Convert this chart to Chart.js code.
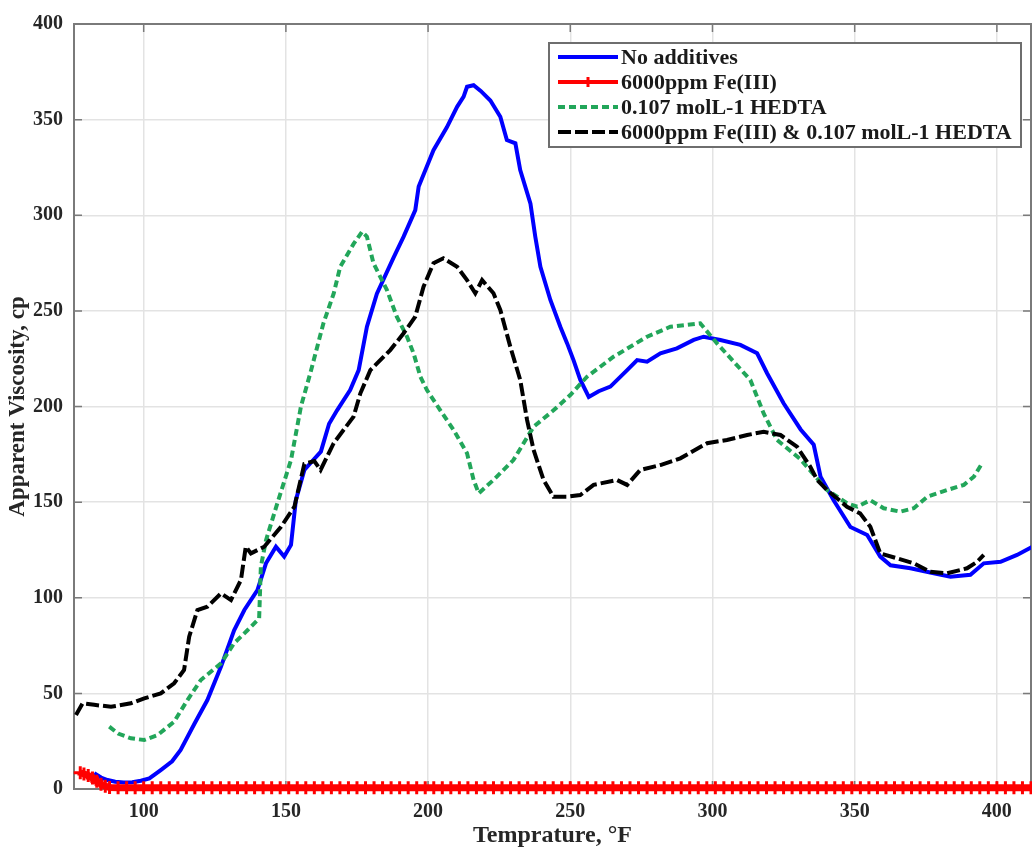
<!DOCTYPE html>
<html>
<head>
<meta charset="utf-8">
<title>Apparent Viscosity vs Temperature</title>
<script src="https://cdn.jsdelivr.net/npm/chart.js@4.4.1/dist/chart.umd.min.js"></script>
<style>
  body { margin: 0; background: #fff; }
</style>
</head>
<body>
<canvas id="viscosity-chart" width="1032" height="848"></canvas>
<script>
// readings taken off the figure: temperature (F) / apparent viscosity (cp)
const blueTemps = [82.6, 85, 87.3, 90, 93, 96, 99, 102, 106, 110, 113, 117.8, 122.4, 127.2, 131.8, 135.4, 140, 143, 146.5, 149.4, 151.8, 153.5, 156.5, 159, 162.3, 165.2, 168, 172.6, 175.6, 178.5, 182, 187.9, 191.4, 195.5, 196.7, 201.9, 206.6, 210.2, 212.5, 213.7, 216, 218.5, 221.9, 225.4, 227.7, 230.7, 232.4, 236, 237.7, 239.5, 243, 246.5, 248.9, 251.2, 253.5, 256.5, 260, 264.1, 270, 273.5, 277, 281.7, 287.5, 293.4, 296.9, 302.8, 309.8, 315.7, 319.2, 325, 331, 335.6, 338, 342.6, 348.5, 354.4, 359, 362.6, 369.6, 377.8, 383.7, 390.7, 395.4, 401.3, 407.1, 412.5];
const blueVisc = [8.2, 6, 4.7, 3.8, 3.4, 3.5, 4.3, 5.5, 9.9, 14.5, 20.4, 34, 46.5, 64, 83, 93.6, 104, 118, 126.7, 121.5, 127.6, 151, 166.8, 171, 176.4, 191, 198, 208.6, 219, 241.7, 259, 278, 288.8, 302.7, 315, 334, 346, 356.7, 362, 367.2, 368, 365, 360, 351.5, 339.3, 337.6, 323.6, 306, 288.8, 273, 255.7, 241.7, 233, 224, 214, 205, 208, 210.4, 219, 224.3, 223.4, 227.8, 230.4, 234.8, 236.5, 234.8, 232.2, 227.8, 217.4, 201.7, 188, 180, 163.3, 151, 137, 132.8, 121.5, 117, 115.4, 112.8, 111, 112, 118, 118.8, 122.4, 126.7];

const redTemps = [77.7, 79, 80.5, 82, 83.5, 85, 86.5, 88, 91, 94, 97, 100, 103, 106, 109, 112, 115, 118, 121, 124, 127, 130, 133, 136, 139, 142, 145, 148, 151, 154, 157, 160, 163, 166, 169, 172, 175, 178, 181, 184, 187, 190, 193, 196, 199, 202, 205, 208, 211, 214, 217, 220, 223, 226, 229, 232, 235, 238, 241, 244, 247, 250, 253, 256, 259, 262, 265, 268, 271, 274, 277, 280, 283, 286, 289, 292, 295, 298, 301, 304, 307, 310, 313, 316, 319, 322, 325, 328, 331, 334, 337, 340, 343, 346, 349, 352, 355, 358, 361, 364, 367, 370, 373, 376, 379, 382, 385, 388, 391, 394, 397, 400, 403, 406, 409, 412];
const redVisc = [8.5, 7.8, 7, 5.8, 4, 2.5, 1.4, 0.8, 0.7, 0.6, 0.6, 0.6, 0.6, 0.6, 0.6, 0.6, 0.6, 0.6, 0.6, 0.6, 0.6, 0.6, 0.6, 0.6, 0.6, 0.6, 0.6, 0.6, 0.6, 0.6, 0.6, 0.6, 0.6, 0.6, 0.6, 0.6, 0.6, 0.6, 0.6, 0.6, 0.6, 0.6, 0.6, 0.6, 0.6, 0.6, 0.6, 0.6, 0.6, 0.6, 0.6, 0.6, 0.6, 0.6, 0.6, 0.6, 0.6, 0.6, 0.6, 0.6, 0.6, 0.6, 0.6, 0.6, 0.6, 0.6, 0.6, 0.6, 0.6, 0.6, 0.6, 0.6, 0.6, 0.6, 0.6, 0.6, 0.6, 0.6, 0.6, 0.6, 0.6, 0.6, 0.6, 0.6, 0.6, 0.6, 0.6, 0.6, 0.6, 0.6, 0.6, 0.6, 0.6, 0.6, 0.6, 0.6, 0.6, 0.6, 0.6, 0.6, 0.6, 0.6, 0.6, 0.6, 0.6, 0.6, 0.6, 0.6, 0.6, 0.6, 0.6, 0.6, 0.6, 0.6, 0.6, 0.6];

const greenTemps = [87.9, 91, 95.5, 100.2, 104.9, 110.7, 115.4, 120.1, 127.2, 131.8, 136.5, 140.6, 141.2, 143, 147, 151.8, 155.3, 158.7, 163.2, 166.8, 169.1, 173.8, 176.8, 178.5, 180.8, 185.5, 189, 192.6, 194.9, 197.3, 199.6, 204.3, 209, 213.7, 216, 217.8, 223, 230, 237.1, 244.1, 250, 255.9, 265.2, 277, 285.2, 295.7, 301.6, 313.3, 318, 322.7, 330.9, 340.3, 347.3, 350.9, 355.5, 360.2, 366.1, 370.8, 375.5, 382.5, 388.4, 391.9, 394.8];
const greenVisc = [32.6, 29, 26.5, 25.6, 28.2, 35.2, 46.5, 57, 65.7, 76.2, 83, 89.2, 116.2, 130, 149.4, 172, 200, 218, 243.5, 259, 273, 285, 291.4, 288.8, 274.9, 261, 247, 236.5, 227.8, 215.6, 208.6, 198, 187.7, 175.5, 161.6, 154.6, 161.6, 172, 189.4, 198, 206, 215.6, 226, 236.5, 241.7, 243.5, 233, 213.9, 196.4, 182.5, 172.5, 156.3, 149.4, 147.6, 151, 146.8, 145, 146.8, 152.8, 156.3, 159, 163.3, 170.3];

const blackTemps = [76.2, 78.5, 82.6, 88.5, 95.5, 100.2, 106, 110.7, 114.2, 116, 118.9, 122.4, 127.2, 130.7, 134.2, 135.9, 137.7, 142.4, 148.3, 153, 156.5, 160, 162.2, 166.8, 173.8, 176.2, 179.7, 186.7, 191.4, 195.5, 198.4, 201.9, 205.4, 210.2, 213.7, 216.6, 219, 223, 225.4, 228.9, 232.4, 234.8, 237.1, 240.6, 244.1, 248.9, 253.5, 258.2, 266.4, 270, 274.6, 281.7, 288.7, 298.1, 305.1, 312.2, 318, 323.9, 329.7, 334.4, 336.8, 340.3, 347.3, 351.9, 355.5, 359, 364.9, 370.8, 376.6, 382.5, 389.5, 393.1, 395.4];
const blackVisc = [38.7, 44.8, 44, 43, 44.8, 47.4, 50, 55.3, 62.2, 79.6, 93.6, 95.3, 102.3, 98.8, 109.3, 126.7, 123.2, 126.7, 137.1, 147.6, 170, 171.5, 166.8, 180.8, 194.7, 206.9, 219, 229.5, 238.3, 247, 262.6, 274.9, 277.5, 273.1, 266.1, 259.2, 266.1, 259.2, 250.5, 231.3, 213.9, 193, 177.3, 161.6, 152.8, 152.8, 153.7, 159, 161.6, 159, 166.8, 169.4, 172.9, 180.8, 182.5, 185.1, 186.8, 185.1, 179, 168.5, 161.6, 156.3, 147.6, 144.1, 137.1, 123.2, 120.6, 118, 113.6, 112.8, 115.4, 118.8, 122.4];

const seriesNames = ["No additives", "6000ppm Fe(III)", "0.107 molL-1 HEDTA", "6000ppm Fe(III) & 0.107 molL-1 HEDTA"];
const yTicks = [0, 50, 100, 150, 200, 250, 300, 350, 400];
const xTicks = [100, 150, 200, 250, 300, 350, 400];

const serif = "'Liberation Serif', 'Times New Roman', serif";
const textColor = "#262626";

function pts(xs, ys) {
  return xs.map((x, i) => ({ x: x, y: ys[i] }));
}

// box round the axes with inward ticks (under the data)
const framePlugin = {
  id: "frame",
  beforeDatasetsDraw(chart) {
    const ctx = chart.ctx;
    const a = chart.chartArea;
    const sx = chart.scales.x;
    const sy = chart.scales.y;
    ctx.save();
    ctx.strokeStyle = "#7a7a7a";
    ctx.lineWidth = 1.5;
    xTicks.forEach(v => {
      const p = sx.getPixelForValue(v);
      ctx.beginPath();
      ctx.moveTo(p, a.bottom); ctx.lineTo(p, a.bottom - 8);
      ctx.moveTo(p, a.top); ctx.lineTo(p, a.top + 8);
      ctx.stroke();
    });
    yTicks.forEach(v => {
      const p = sy.getPixelForValue(v);
      ctx.beginPath();
      ctx.moveTo(a.left, p); ctx.lineTo(a.left + 8, p);
      ctx.moveTo(a.right, p); ctx.lineTo(a.right - 8, p);
      ctx.stroke();
    });
    ctx.lineWidth = 2;
    ctx.strokeRect(a.left, a.top, a.right - a.left, a.bottom - a.top);
    ctx.restore();
  },
  // legend box in the top right
  afterDraw(chart) {
    const ctx = chart.ctx;
    const lx = 549, ly = 43, lw = 472, lh = 104;
    ctx.save();
    ctx.fillStyle = "#fff";
    ctx.fillRect(lx, ly, lw, lh);
    ctx.strokeStyle = "#6e6e6e";
    ctx.lineWidth = 2;
    ctx.strokeRect(lx, ly, lw, lh);
    ctx.font = "bold 22px " + serif;
    ctx.textBaseline = "middle";
    chart.data.datasets.forEach((ds, i) => {
      const y = ly + 14 + i * 25;
      ctx.strokeStyle = ds.borderColor;
      ctx.lineWidth = 4;
      ctx.setLineDash(ds.borderDash || []);
      ctx.beginPath();
      ctx.moveTo(lx + 9, y); ctx.lineTo(lx + 69, y);
      ctx.stroke();
      ctx.setLineDash([]);
      if (ds.pointStyle === "cross") {
        ctx.lineWidth = 3;
        ctx.beginPath();
        ctx.moveTo(lx + 39, y - 5); ctx.lineTo(lx + 39, y + 5);
        ctx.stroke();
      }
      ctx.fillStyle = "#1a1a1a";
      ctx.fillText(ds.label, lx + 72, y + 1);
    });
    ctx.restore();
  }
};

new Chart(document.getElementById("viscosity-chart"), {
  type: "line",
  data: {
    datasets: [
      {
        label: seriesNames[0],
        data: pts(blueTemps, blueVisc),
        borderColor: "#0000ff",
        borderWidth: 4,
        pointRadius: 0,
        order: 4
      },
      {
        label: seriesNames[1],
        data: pts(redTemps, redVisc),
        borderColor: "#ff0000",
        backgroundColor: "#ff0000",
        borderWidth: 7,
        pointStyle: "cross",
        pointRadius: 6.5,
        pointBorderWidth: 3,
        clip: false,
        order: 3
      },
      {
        label: seriesNames[2],
        data: pts(greenTemps, greenVisc),
        borderColor: "#22a65a",
        borderWidth: 4,
        borderDash: [7, 4],
        pointRadius: 0,
        order: 2
      },
      {
        label: seriesNames[3],
        data: pts(blackTemps, blackVisc),
        borderColor: "#000000",
        borderWidth: 4,
        borderDash: [13, 4],
        pointRadius: 0,
        order: 1
      }
    ]
  },
  options: {
    responsive: false,
    animation: false,
    layout: { autoPadding: false, padding: { top: 24, right: 1, left: 0, bottom: 0 } },
    plugins: {
      legend: { display: false },
      tooltip: { enabled: false }
    },
    scales: {
      x: {
        type: "linear",
        min: 75.5,
        max: 412,
        afterBuildTicks: scale => {
          scale.ticks = xTicks.map(v => ({ value: v }));
        },
        afterFit: scale => { scale.height = 59; },
        grid: { color: "#e3e3e3", lineWidth: 1.5, drawTicks: false },
        border: { display: false },
        ticks: {
          padding: 11,
          color: textColor,
          font: { family: serif, size: 20, weight: "bold" }
        },
        title: {
          display: true,
          text: "Temprature, °F",
          color: textColor,
          padding: { top: 0, bottom: 0 },
          font: { family: serif, size: 24, weight: "bold", lineHeight: 1 }
        }
      },
      y: {
        min: 0,
        max: 400,
        afterBuildTicks: scale => {
          scale.ticks = yTicks.map(v => ({ value: v }));
        },
        afterFit: scale => { scale.width = 74; },
        grid: { color: "#e3e3e3", lineWidth: 1.5, drawTicks: false },
        border: { display: false },
        ticks: {
          padding: 11,
          color: textColor,
          font: { family: serif, size: 20, weight: "bold" }
        },
        title: {
          display: true,
          text: "Apparent Viscosity, cp",
          color: textColor,
          padding: { top: 7, bottom: 0 },
          font: { family: serif, size: 23, weight: "bold", lineHeight: 1 }
        }
      }
    }
  },
  plugins: [framePlugin]
});
</script>
</body>
</html>
